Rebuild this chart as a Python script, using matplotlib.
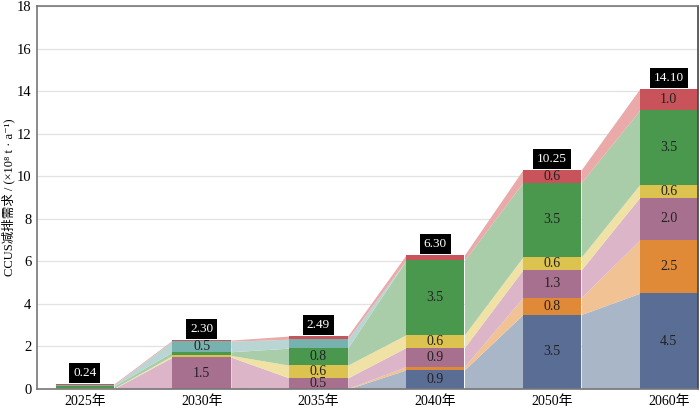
import matplotlib
matplotlib.use("Agg")
import matplotlib.pyplot as plt
import numpy as np

categories = ["2025年", "2030年", "2035年", "2040年", "2050年", "2060年"]
blue   = [0.00, 0.00, 0.00, 0.90, 3.50, 4.50]
orange = [0.00, 0.00, 0.02, 0.15, 0.80, 2.50]
purple = [0.02, 1.50, 0.50, 0.90, 1.30, 2.00]
yellow = [0.02, 0.08, 0.60, 0.60, 0.60, 0.60]
green  = [0.10, 0.17, 0.80, 3.50, 3.50, 3.50]
teal   = [0.05, 0.50, 0.42, 0.00, 0.00, 0.00]
red    = [0.05, 0.05, 0.15, 0.25, 0.60, 1.00]
totals = ["0.24", "2.30", "2.49", "6.30", "10.25", "14.10"]
yticks = [0, 2, 4, 6, 8, 10, 12, 14, 16, 18]

series = [blue, orange, purple, yellow, green, teal, red]
bar_colors = ["#5a6d94", "#e08a38", "#a8708f", "#dcc24e", "#4a984e", "#78b2ae", "#c9535a"]
fill_colors = ["#a9b6c8", "#f1c294", "#dcb6c8", "#f0e2a4", "#a9cda9", "#b9d6d4", "#eaaaaa"]

serif = ["Liberation Serif", "Noto Sans CJK SC", "DejaVu Sans"]
plt.rcParams["font.family"] = serif

fig = plt.figure(figsize=(7.0, 4.08), dpi=100)
ax = fig.add_axes([37/700, 1-389/408, 661/700, 383/408])

x = np.arange(len(categories))
w = 0.5
data = np.array(series)
bottoms = np.vstack([np.zeros(len(x)), np.cumsum(data, axis=0)[:-1]])
tops = np.cumsum(data, axis=0)

for s in range(len(series)):
    for i in range(len(x) - 1):
        xs = [x[i] + w/2, x[i+1] - w/2]
        ax.fill_between(xs, [bottoms[s, i], bottoms[s, i+1]], [tops[s, i], tops[s, i+1]],
                        color=fill_colors[s], linewidth=0, zorder=1)
    ax.bar(x, data[s], width=w, bottom=bottoms[s], color=bar_colors[s], linewidth=0, zorder=2)
    for i in range(len(x)):
        v = data[s, i]
        if v >= 0.5:
            ax.text(x[i], bottoms[s, i] + v/2, f"{v:.1f}", ha="center", va="center",
                    fontsize=10, color="#222222", zorder=4)

grand = tops[-1]
for i in range(len(x)):
    ax.text(x[i], grand[i] + 0.5, totals[i], ha="center", va="center", fontsize=9.5,
            color="white", zorder=5,
            bbox=dict(boxstyle="square,pad=0.3", facecolor="black", edgecolor="none"))

ax.set_xlim(-0.41, 5.25)
ax.set_ylim(0, 18)
ax.set_yticks(yticks)
ax.set_xticks(x)
ax.set_xticklabels(categories, fontsize=10)
ax.tick_params(axis="y", labelsize=10.5, length=0, pad=4)
ax.tick_params(axis="x", length=0, pad=4)
ax.yaxis.grid(True, color="#e2e2e2", linewidth=0.9, zorder=0)
ax.set_axisbelow(True)
for sp in ["left", "bottom", "top"]:
    ax.spines[sp].set_color("#777777")
    ax.spines[sp].set_linewidth(1.2)
ax.spines["right"].set_color("#444444")
ax.spines["right"].set_linewidth(1.2)
ax.set_ylabel("CCUS减排需求 / (×10⁸ t · a⁻¹)", fontsize=9)
ax.yaxis.set_label_coords(-0.044, 0.5)
ax.yaxis.label.set_verticalalignment("center")

fig.savefig("out.png", dpi=100)
